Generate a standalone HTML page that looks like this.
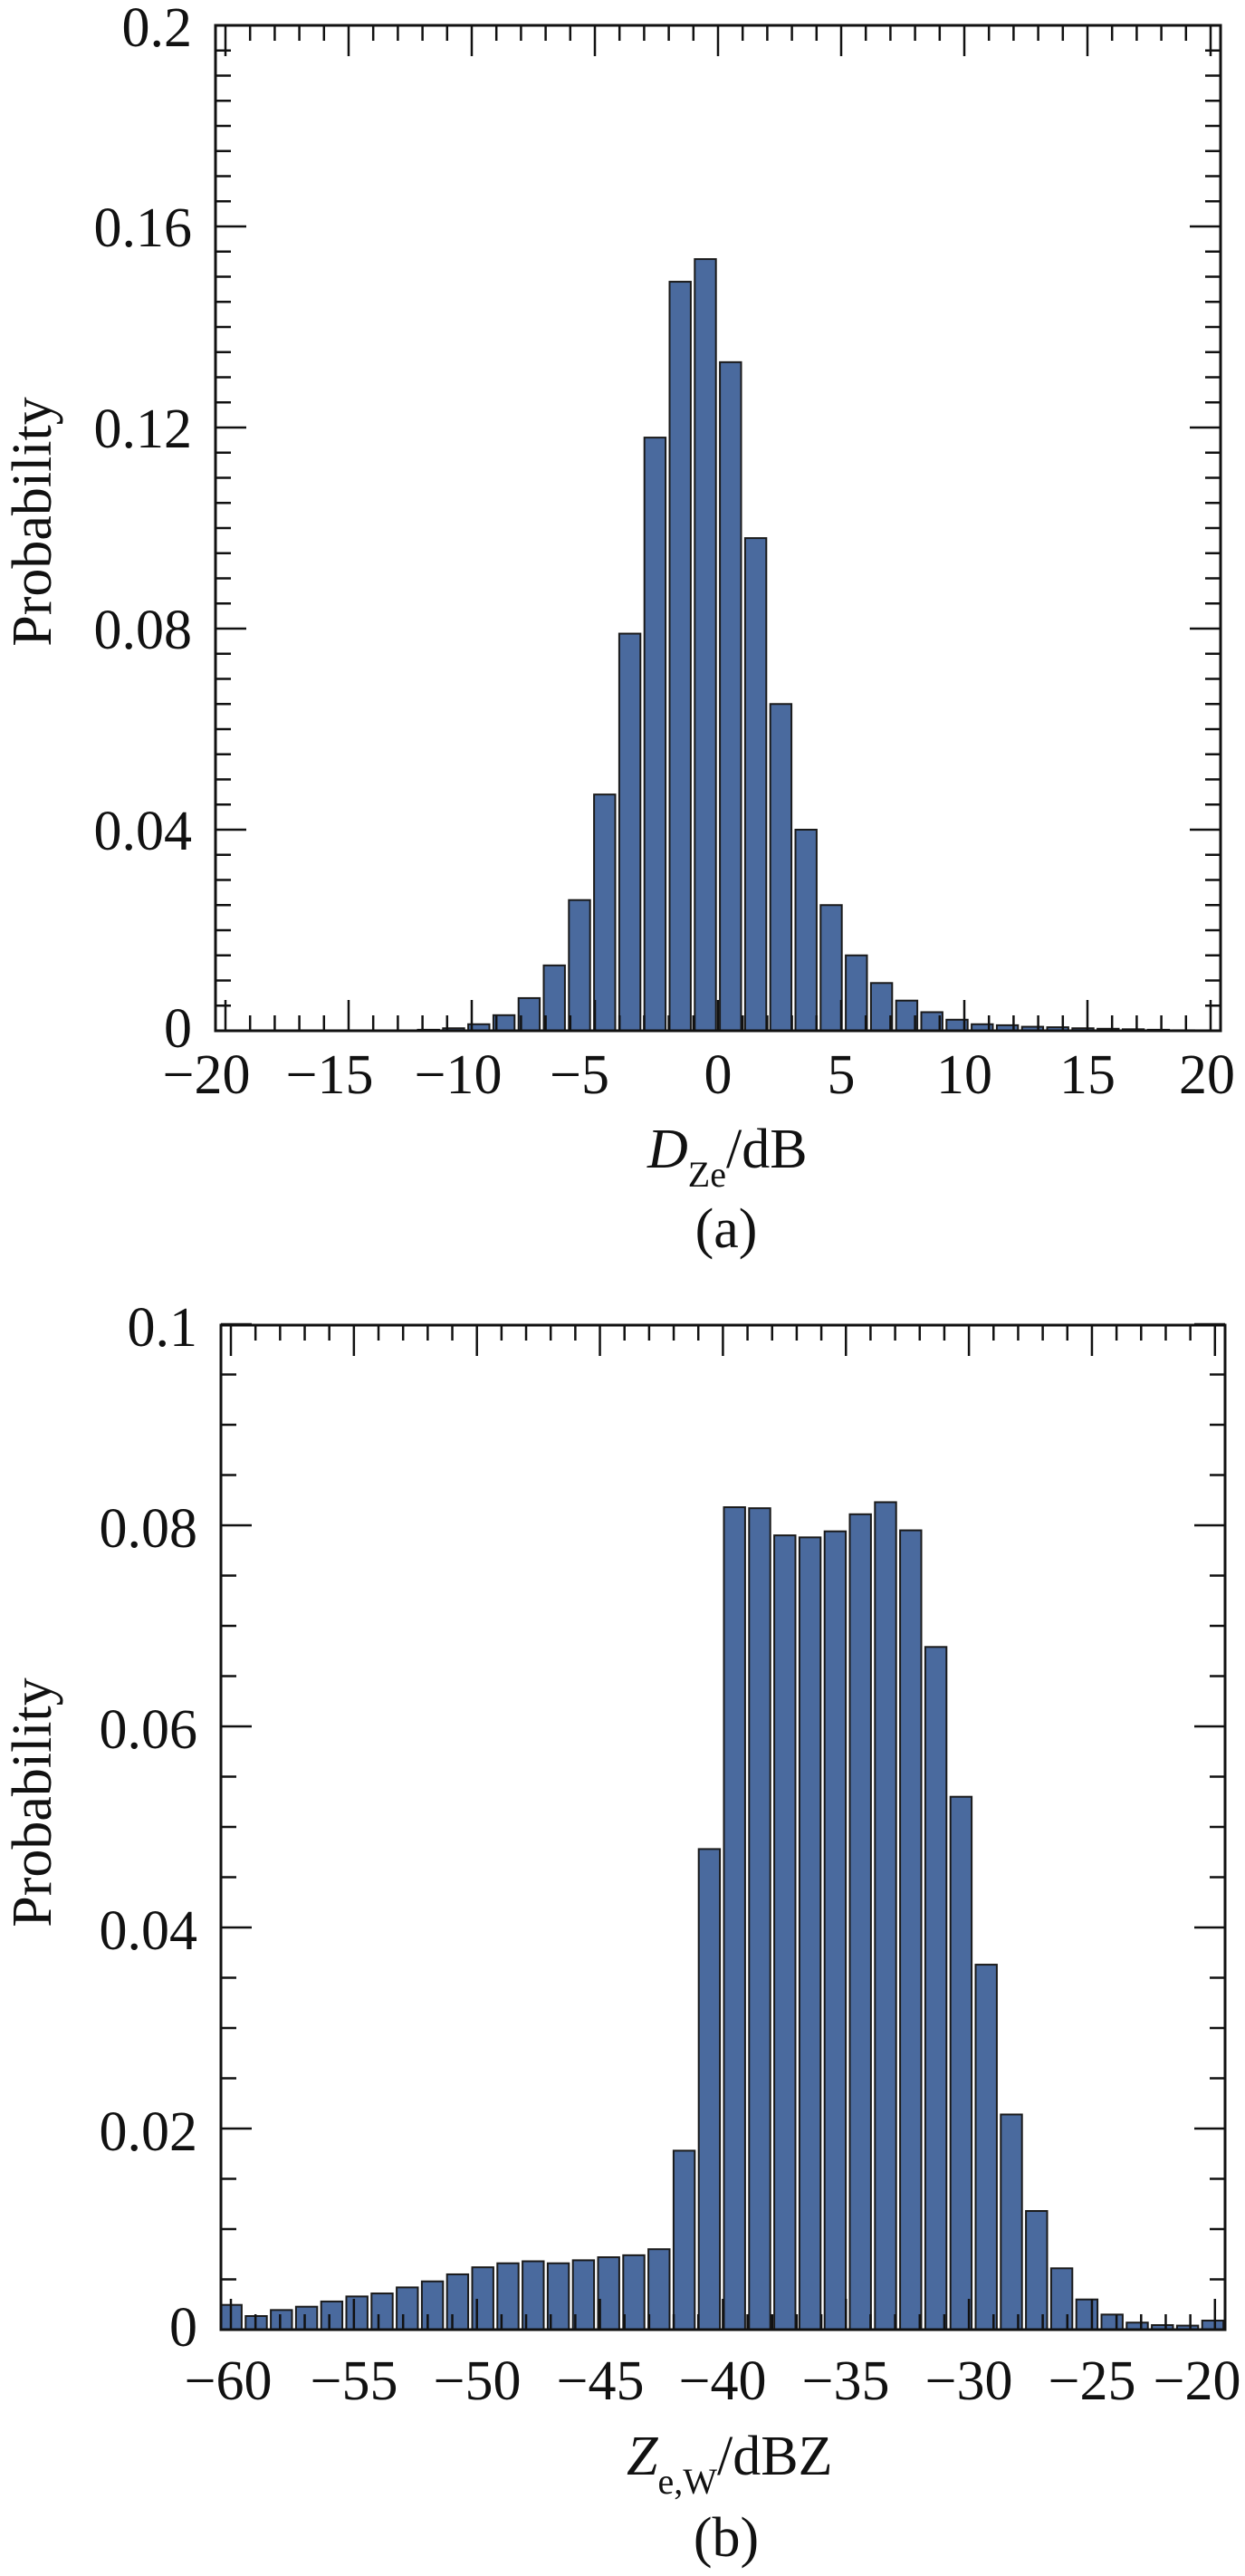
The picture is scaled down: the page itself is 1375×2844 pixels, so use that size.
<!DOCTYPE html>
<html><head><meta charset="utf-8"><style>
html,body{margin:0;padding:0;background:#fff;width:1375px;height:2844px;overflow:hidden}
svg{display:block}
text{font-family:"Liberation Serif",serif;fill:#111}
</style></head><body>
<svg id="s" width="1375" height="2844" viewBox="0 0 1375 2844" xmlns="http://www.w3.org/2000/svg">
<g id="bars"></g>
<g id="ticks" stroke="#111" stroke-width="2.5" fill="none"></g>
<rect x="238" y="28" width="1110" height="1110" fill="none" stroke="#111" stroke-width="3"/>
<rect x="244" y="1463" width="1109" height="1109" fill="none" stroke="#111" stroke-width="3"/>
<g font-size="62" text-anchor="end">
<text x="212" y="51">0.2</text>
<text x="212" y="272">0.16</text>
<text x="212" y="494">0.12</text>
<text x="212" y="716">0.08</text>
<text x="212" y="938">0.04</text>
<text x="212" y="1156">0</text>
<text x="218" y="1486">0.1</text>
<text x="218" y="1708">0.08</text>
<text x="218" y="1930">0.06</text>
<text x="218" y="2152">0.04</text>
<text x="218" y="2374">0.02</text>
<text x="218" y="2590">0</text>
</g>
<g font-size="62" text-anchor="middle">
<text x="228" y="1207">−20</text>
<text x="364" y="1207">−15</text>
<text x="506" y="1207">−10</text>
<text x="640" y="1207">−5</text>
<text x="793" y="1207">0</text>
<text x="929" y="1207">5</text>
<text x="1065" y="1207">10</text>
<text x="1201" y="1207">15</text>
<text x="1333" y="1207">20</text>
<text x="252" y="2649">−60</text>
<text x="391" y="2649">−55</text>
<text x="527" y="2649">−50</text>
<text x="663" y="2649">−45</text>
<text x="798" y="2649">−40</text>
<text x="934" y="2649">−35</text>
<text x="1070" y="2649">−30</text>
<text x="1206" y="2649">−25</text>
<text x="1322" y="2649">−20</text>
</g>
<text font-size="62" text-anchor="middle" transform="translate(56,576) rotate(-90)">Probability</text>
<text font-size="62" text-anchor="middle" transform="translate(56,1990) rotate(-90)">Probability</text>
<text x="715" y="1289" font-size="62"><tspan font-style="italic">D</tspan><tspan font-size="40" dy="21">Ze</tspan><tspan dy="-21">/dB</tspan></text>
<text x="802" y="1377" font-size="62" text-anchor="middle">(a)</text>
<text x="692" y="2732" font-size="62"><tspan font-style="italic">Z</tspan><tspan font-size="40" dy="21">e,W</tspan><tspan dy="-21">/dBZ</tspan></text>
<text x="802" y="2822" font-size="62" text-anchor="middle">(b)</text>
</svg>
<script>
var NS="http://www.w3.org/2000/svg";
var bars=document.getElementById('bars'),ticks=document.getElementById('ticks');
function rect(x,y,w,h){var r=document.createElementNS(NS,'rect');r.setAttribute('x',x);r.setAttribute('y',y);r.setAttribute('width',w);r.setAttribute('height',h);r.setAttribute('fill','#4a6a9e');r.setAttribute('stroke','#1a1a1a');r.setAttribute('stroke-width','2');bars.appendChild(r);}
function line(x1,y1,x2,y2){var l=document.createElementNS(NS,'line');l.setAttribute('x1',x1);l.setAttribute('y1',y1);l.setAttribute('x2',x2);l.setAttribute('y2',y2);ticks.appendChild(l);}
var A={};A[-11]=0.0002;A[-10]=0.0005;A[-9]=0.0013;A[-8]=0.0031;A[-7]=0.0065;A[-6]=0.013;A[-5]=0.026;A[-4]=0.047;A[-3]=0.079;A[-2]=0.118;A[-1]=0.149;A[0]=0.1535;A[1]=0.133;A[2]=0.098;A[3]=0.065;A[4]=0.040;A[5]=0.025;A[6]=0.015;A[7]=0.0095;A[8]=0.006;A[9]=0.0037;A[10]=0.0022;A[11]=0.0013;A[12]=0.0011;A[13]=0.0008;A[14]=0.0007;A[15]=0.0005;A[16]=0.0004;A[17]=0.0003;A[18]=0.0002;A[19]=0.0001;
for(var i=-11;i<=19;i++){var c=779+27.8*i,h=A[i]*5550;rect(c-11.7,1138-h,23.4,h);}
var B=[0.00246,0.00135,0.00195,0.00228,0.0028,0.0033,0.0036,0.0042,0.0048,0.0055,0.0062,0.0066,0.0068,0.0066,0.0069,0.0072,0.0074,0.0080,0.0178,0.0478,0.0818,0.0817,0.0790,0.0788,0.0794,0.0811,0.0823,0.0795,0.0679,0.0530,0.0363,0.0214,0.0118,0.0061,0.0030,0.0015,0.0007,0.00045,0.0004,0.0009];
for(var j=0;j<40;j++){var c=255.2+27.8*j,h=B[j]*11100,x=c-11.7,w=23.4;if(x<244){w-=244-x;x=244;}if(x+w>1353)w=1353-x;rect(x,2572-h,w,h);}
for(var k=-20;k<=20;k++){var x=249+27.2*(k+20),L=(k%5==0)?34:17;line(x,28,x,28+L);line(x,1138,x,1138-L);}
for(var m=0;m<=40;m++){var y=1138-m*0.005*5550;if(y<28)continue;var L=(m%8==0)?34:17;line(238,y,238+L,y);line(1348,y,1348-L,y);}
for(var k=-60;k<=-20;k++){var x=255+27.17*(k+60),L=(k%5==0)?34:17;line(x,1463,x,1463+L);line(x,2572,x,2572-L);}
for(var m=0;m<=20;m++){var y=2572-m*0.005*11100;var L=(m%4==0)?34:17;line(244,y,244+L,y);line(1353,y,1353-L,y);}
</script>
</body></html>
